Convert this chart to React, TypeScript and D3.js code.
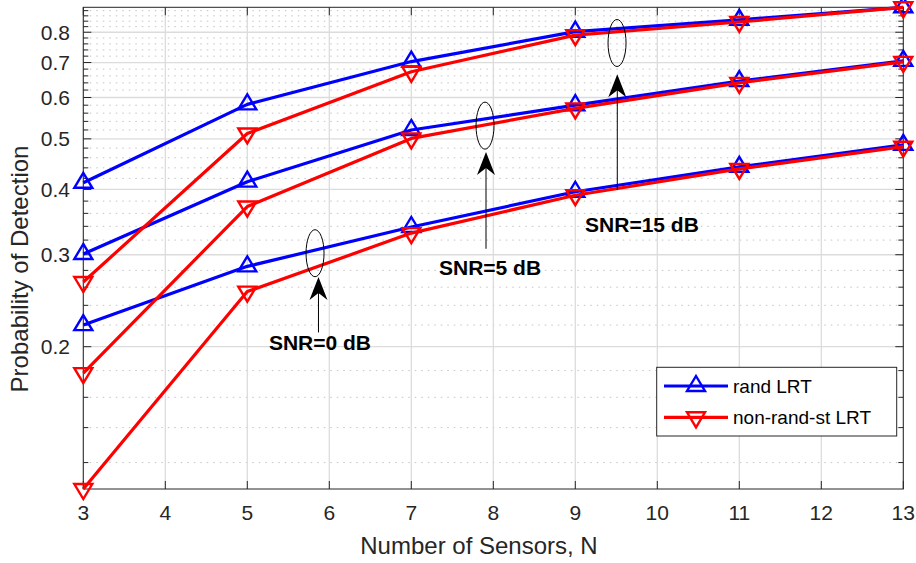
import React from 'react';
import * as d3 from 'd3';

// ---- data ----
const sensors = [3, 5, 7, 9, 11, 13];
const randLRT_15 = [0.412, 0.582, 0.703, 0.802, 0.845, 0.893];
const nonRand_15 = [0.266, 0.512, 0.672, 0.79, 0.837, 0.893];
const randLRT_5 = [0.301, 0.414, 0.52, 0.58, 0.645, 0.705];
const nonRand_5 = [0.178, 0.371, 0.501, 0.572, 0.64, 0.702];
const randLRT_0 = [0.22, 0.285, 0.339, 0.396, 0.442, 0.487];
const nonRand_0 = [0.1068, 0.255, 0.33, 0.39, 0.438, 0.483];

const xTicks = [3, 4, 5, 6, 7, 8, 9, 10, 11, 12, 13];
const yTicks = [0.2, 0.3, 0.4, 0.5, 0.6, 0.7, 0.8];
const yMinorTicks = [0.12, 0.14, 0.16, 0.18, 0.22, 0.24, 0.26, 0.28, 0.32, 0.34, 0.36, 0.38,
  0.42, 0.44, 0.46, 0.48, 0.52, 0.54, 0.56, 0.58, 0.62, 0.64, 0.66, 0.68, 0.72, 0.74, 0.76, 0.78,
  0.82, 0.84, 0.86, 0.88];

const legendLabels = ['rand LRT', 'non-rand-st LRT'];
const snrLabels = ['SNR=0 dB', 'SNR=5 dB', 'SNR=15 dB'];
// annotation anchors in data coordinates
const ellipseX = [5.826, 7.899, 9.509];
const ellipseY = [0.302, 0.53, 0.763];
const arrowX = [5.868, 7.911, 9.512];
const arrowTipY = [0.272, 0.472, 0.665];
const arrowTailY = [0.213, 0.308, 0.399];
const textX = [5.886, 7.96, 9.813];
const textY = [0.1975, 0.274, 0.332];

const FONT = '"Liberation Sans", Arial, Helvetica, sans-serif';
const BLUE = '#0000ff';
const RED = '#ff0000';
const AX = '#262626';

const W = 916, H = 563;
const L = 83.3, R = 903.3, T = 7.3, B = 489;

const x = d3.scaleLinear().domain([3, 13]).range([L, R]);
const y = d3.scaleLog().domain([0.1068, 0.893]).range([B, T]);

const line = d3.line<[number, number]>().x(d => x(d[0])).y(d => y(d[1]));

function upTri(cx: number, cy: number) {
  return `M${cx},${cy - 10} L${cx + 9},${cy + 5} L${cx - 9},${cy + 5} Z`;
}
function downTri(cx: number, cy: number) {
  return `M${cx},${cy + 10} L${cx + 9},${cy - 5} L${cx - 9},${cy - 5} Z`;
}

function Series({ vals, color, up }: { vals: number[]; color: string; up: boolean }) {
  const pts = sensors.map((s, i) => [s, vals[i]] as [number, number]);
  return (
    <g>
      <path d={line(pts) || ''} fill="none" stroke={color} strokeWidth={3.2} strokeLinejoin="round" />
      {pts.map((p, i) => (
        <path key={i} d={up ? upTri(x(p[0]), y(p[1])) : downTri(x(p[0]), y(p[1]))}
          fill="none" stroke={color} strokeWidth={2.4} strokeLinejoin="miter" />
      ))}
    </g>
  );
}

export default function App() {
  const blues = [randLRT_15, randLRT_5, randLRT_0];
  const reds = [nonRand_15, nonRand_5, nonRand_0];
  return (
    <svg width={W} height={H} style={{ position: 'absolute', left: 0, top: 0, background: '#fff' }}
      fontFamily={FONT}>
      <rect x={0} y={0} width={W} height={H} fill="#fff" />
      {/* minor grid */}
      {yMinorTicks.map(t => (
        <line key={'mg' + t} x1={L} x2={R} y1={y(t)} y2={y(t)} stroke="#c4c4c4" strokeWidth={1}
          strokeDasharray="1.5,5" />
      ))}
      {/* major grid */}
      {yTicks.map(t => (
        <line key={'g' + t} x1={L} x2={R} y1={y(t)} y2={y(t)} stroke="#dcdcdc" strokeWidth={1.3} />
      ))}
      {xTicks.map(t => (
        <line key={'gx' + t} x1={x(t)} x2={x(t)} y1={T} y2={B} stroke="#dcdcdc" strokeWidth={1.3} />
      ))}
      {/* ticks */}
      {xTicks.map(t => (
        <g key={'tx' + t}>
          <line x1={x(t)} x2={x(t)} y1={B} y2={B - 8} stroke={AX} strokeWidth={1} />
          <line x1={x(t)} x2={x(t)} y1={T} y2={T + 8} stroke={AX} strokeWidth={1} />
          <text x={x(t)} y={520} textAnchor="middle" fontSize={21} fill={AX}>{t}</text>
        </g>
      ))}
      {yTicks.map(t => (
        <g key={'ty' + t}>
          <line x1={L} x2={L + 8} y1={y(t)} y2={y(t)} stroke={AX} strokeWidth={1} />
          <line x1={R} x2={R - 8} y1={y(t)} y2={y(t)} stroke={AX} strokeWidth={1} />
          <text x={70} y={y(t)} dy="0.36em" textAnchor="end" fontSize={21} fill={AX}>{t}</text>
        </g>
      ))}
      {yMinorTicks.map(t => (
        <g key={'tm' + t}>
          <line x1={L} x2={L + 5} y1={y(t)} y2={y(t)} stroke={AX} strokeWidth={1} />
          <line x1={R} x2={R - 5} y1={y(t)} y2={y(t)} stroke={AX} strokeWidth={1} />
        </g>
      ))}
      {/* box */}
      <rect x={L} y={T} width={R - L} height={B - T} fill="none" stroke={AX} strokeWidth={1} />
      {/* series */}
      {blues.map((v, i) => <Series key={'b' + i} vals={v} color={BLUE} up={true} />)}
      {reds.map((v, i) => <Series key={'r' + i} vals={v} color={RED} up={false} />)}
      {/* annotations */}
      {snrLabels.map((lab, i) => {
        const ax = x(arrowX[i]);
        const ty = y(arrowTipY[i]);
        const tl = y(arrowTailY[i]);
        return (
          <g key={'a' + i}>
            <ellipse cx={x(ellipseX[i])} cy={y(ellipseY[i])} rx={9} ry={23.5} fill="none" stroke="#000" strokeWidth={1} />
            <line x1={ax} x2={ax} y1={ty + 14} y2={tl} stroke="#000" strokeWidth={1} />
            <path d={`M${ax},${ty} L${ax + 9},${ty + 23} L${ax},${ty + 16} L${ax - 9},${ty + 23} Z`} fill="#000" />
            <text x={x(textX[i])} y={y(textY[i])} textAnchor="middle" fontSize={21} fontWeight="bold" fill="#000">{lab}</text>
          </g>
        );
      })}
      {/* legend */}
      <rect x={656.7} y={367.3} width={240} height={68.7} fill="#fff" stroke={AX} strokeWidth={1} />
      {legendLabels.map((lab, i) => {
        const ly = 386 + i * 31.3;
        const color = i === 0 ? BLUE : RED;
        return (
          <g key={'l' + i}>
            <line x1={664} x2={728} y1={ly} y2={ly} stroke={color} strokeWidth={3.2} />
            <path d={i === 0 ? upTri(696, ly) : downTri(696, ly)} fill="none" stroke={color} strokeWidth={2.4} />
            <text x={733} y={ly} dy="0.36em" fontSize={19} fill="#000">{lab}</text>
          </g>
        );
      })}
      {/* axis labels */}
      <text x={479} y={554} textAnchor="middle" fontSize={24} fill={AX}>Number of Sensors, N</text>
      <text transform={`translate(27.5,269) rotate(-90)`} textAnchor="middle" fontSize={24} fill={AX}>
        Probability of Detection
      </text>
    </svg>
  );
}
